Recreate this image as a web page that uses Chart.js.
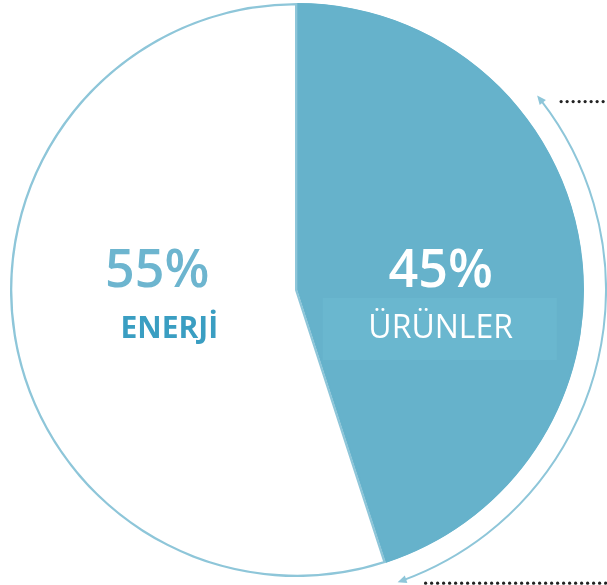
<!DOCTYPE html>
<html lang="tr">
<head>
<meta charset="UTF-8" />
<title>Enerji / Ürünler</title>
<script src="https://cdn.jsdelivr.net/npm/chart.js"></script>
<style>
  html, body { margin: 0; padding: 0; background: #ffffff; }
  canvas { display: block; }
</style>
</head>
<body>
<canvas id="myChart" width="607" height="585"></canvas>
<script>
  // slices, clockwise from 12 o'clock
  const labels = ['ÜRÜNLER', 'ENERJİ'];
  const values = [45, 55];
  const fills = ['#66b2cb', '#ffffff'];
  const borders = ['#66b2cb', '#8ec6d9'];

  // text drawn inside each slice
  const pctColors = ['#ffffff', '#6db5cf'];
  const nameColors = ['#ffffff', '#3a9ec2'];
  const nameFonts = ['400 32px "Open Sans"', '700 30px "Open Sans"'];

  const sliceText = {
    id: 'sliceText',
    afterDatasetsDraw(chart) {
      const ctx = chart.ctx;
      const meta = chart.getDatasetMeta(0);
      const total = values.reduce((a, b) => a + b, 0);
      const cx = meta.data[0].x, cy = meta.data[0].y;
      const r = meta.data[0].outerRadius;

      meta.data.forEach((arc, i) => {
        const pos = arc.tooltipPosition();
        const nx = pos.x + (i === 1 ? 14 : 2);
        ctx.save();
        if (i === 0) {
          // faint lighter band behind the label
          ctx.fillStyle = '#6ab7cf';
          ctx.fillRect(nx - 118, cy + 8, 234, 62);
        }
        ctx.textAlign = 'center';
        ctx.textBaseline = 'alphabetic';
        ctx.fillStyle = pctColors[i];
        ctx.font = '600 52px "Open Sans"';
        const pct = Math.round(values[i] / total * 100) + '%';
        ctx.fillText(pct, pos.x + 2, cy - 3);
        ctx.fillStyle = nameColors[i];
        ctx.font = nameFonts[i];
        ctx.fillText(labels[i], nx, cy + 48);
        ctx.restore();
      });

      // curved double arrow outside the blue slice
      const ar = r + 22;
      const a0 = -Math.PI / 2 + 51 * Math.PI / 180;
      const a1 = -Math.PI / 2 + 161 * Math.PI / 180;
      ctx.save();
      ctx.strokeStyle = '#8ec6d9';
      ctx.fillStyle = '#8ec6d9';
      ctx.lineWidth = 2;
      ctx.beginPath();
      ctx.arc(cx, cy, ar, a0 + 0.02, a1 - 0.02);
      ctx.stroke();
      const head = (a, dir) => {
        const px = cx + ar * Math.cos(a), py = cy + ar * Math.sin(a);
        // tangent, pointing along the direction of travel
        const tx = -Math.sin(a) * dir, ty = Math.cos(a) * dir;
        const nxv = -ty, nyv = tx;
        ctx.beginPath();
        ctx.moveTo(px, py);
        ctx.lineTo(px - tx * 9 + nxv * 4, py - ty * 9 + nyv * 4);
        ctx.lineTo(px - tx * 9 - nxv * 4, py - ty * 9 - nyv * 4);
        ctx.closePath();
        ctx.fill();
      };
      head(a0, -1);
      head(a1, 1);

      // dotted leader lines
      ctx.fillStyle = '#222222';
      const dots = (x0, x1, y) => {
        for (let x = x0; x <= x1; x += 6) {
          ctx.beginPath();
          ctx.arc(x, y, 1.6, 0, Math.PI * 2);
          ctx.fill();
        }
      };
      const topY = cy + ar * Math.sin(a0) + 6;
      const botY = cy + ar * Math.sin(a1) + 1;
      dots(cx + ar * Math.cos(a0) + 24, chart.width, topY);
      dots(cx + ar * Math.cos(a1) + 28, chart.width, botY);
      ctx.restore();
    }
  };

  const ctx = document.getElementById('myChart').getContext('2d');
  const myChart = new Chart(ctx, {
    type: 'pie',
    data: {
      labels: labels,
      datasets: [{
        data: values,
        backgroundColor: fills,
        borderColor: borders,
        borderWidth: 2,
        borderAlign: 'inner'
      }]
    },
    options: {
      responsive: false,
      animation: false,
      layout: { padding: { top: 3, bottom: 8, left: 10, right: 23 } },
      plugins: {
        legend: { display: false },
        tooltip: { enabled: false }
      }
    },
    plugins: [sliceText]
  });
</script>
</body>
</html>
